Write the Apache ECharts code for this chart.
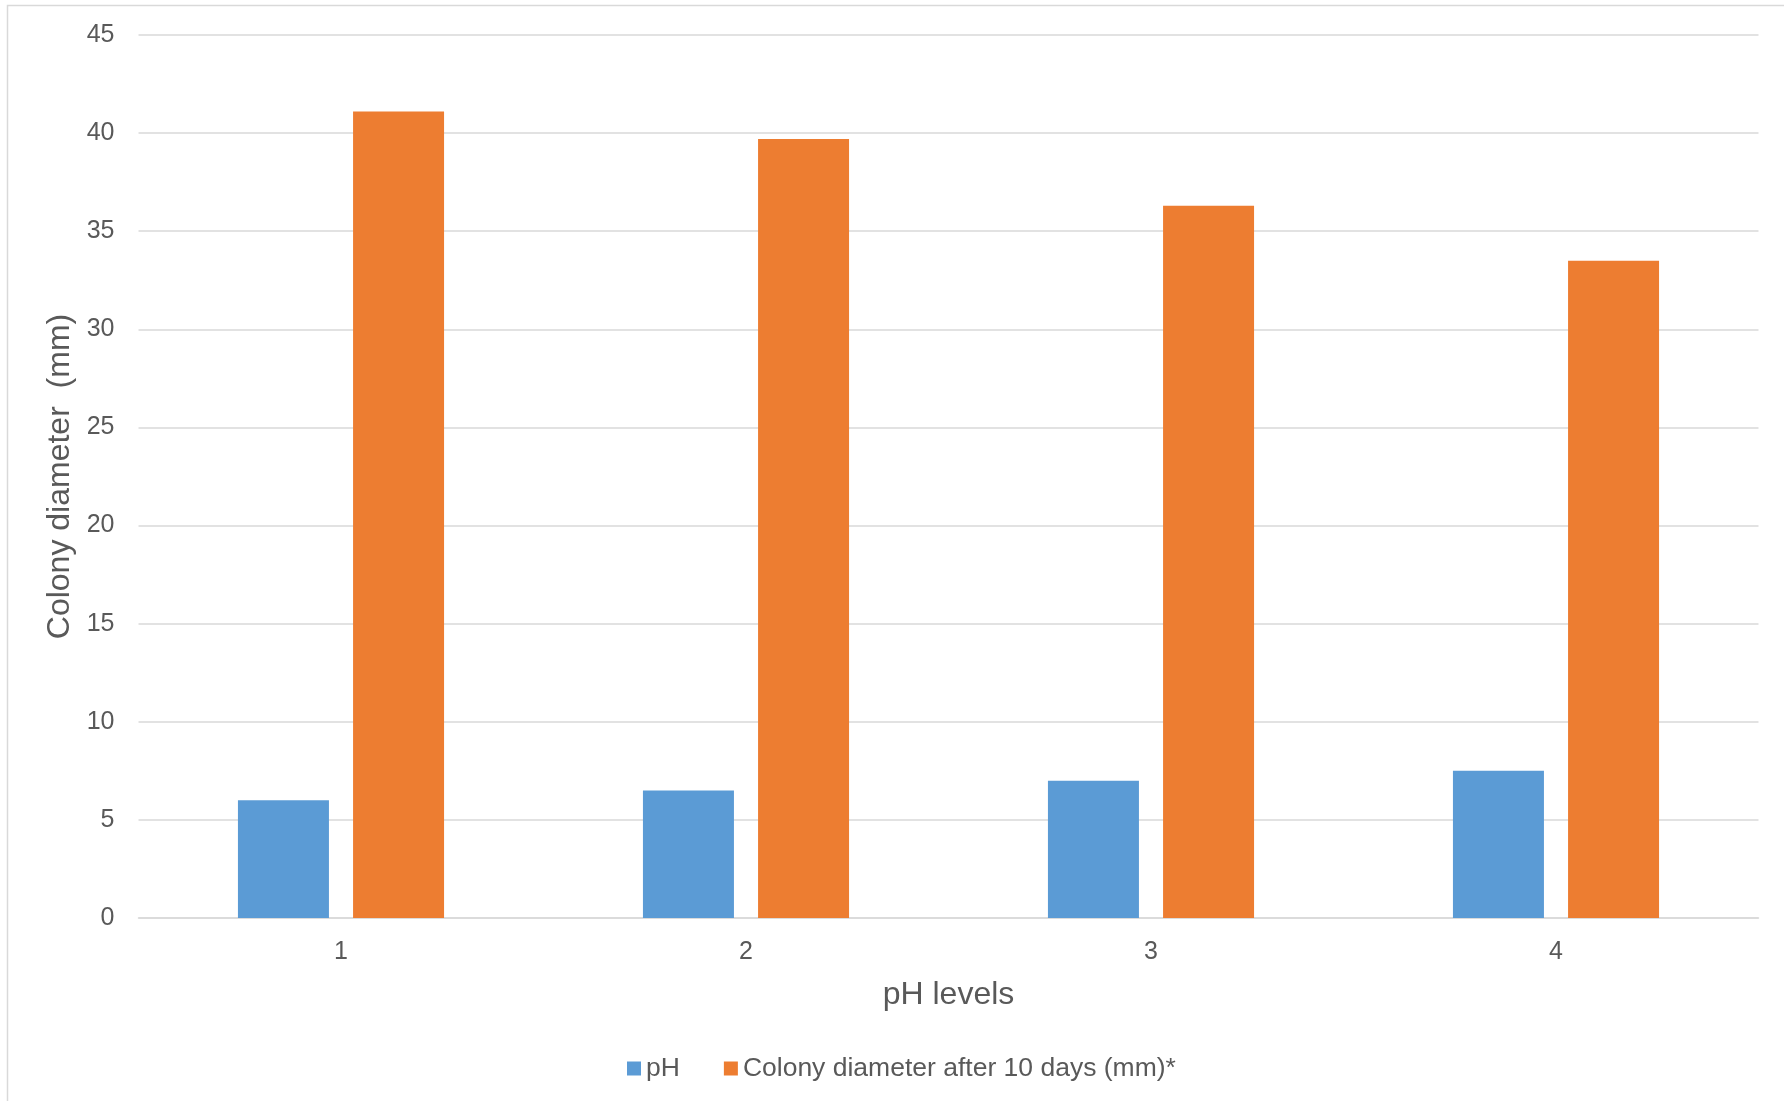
<!DOCTYPE html>
<html>
<head>
<meta charset="utf-8">
<script src="https://cdn.jsdelivr.net/npm/echarts@6/dist/echarts.min.js"></script>
<style>
html,body{margin:0;padding:0;background:#fff;}
#chart{width:1784px;height:1101px;}
</style>
</head>
<body>
<div id="chart"></div>
<script>
const categories = ['1', '2', '3', '4'];
const phValues = [6.0, 6.5, 7.0, 7.5];
const diameterValues = [41.1, 39.7, 36.3, 33.5];
const seriesNames = ['pH', 'Colony diameter after 10 days (mm)*'];
const xTitle = 'pH levels';
const yTitle = 'Colony diameter  (mm)';

const FONT = '"Liberation Sans", Arial, sans-serif';
const TXT = '#595959';
const chart = echarts.init(document.getElementById('chart'), null, {renderer: 'canvas'});
chart.setOption({
  animation: false,
  backgroundColor: '#fff',
  graphic: [{
    type: 'rect', silent: true, z: -1,
    shape: {x: 7.5, y: 5.5, width: 1900, height: 1300},
    style: {fill: 'none', stroke: '#d9d9d9', lineWidth: 1.5}
  }],
  grid: {left: 138.5, right: 25.5, top: 35, bottom: 183, containLabel: false},
  legend: {
    left: 622, top: 1050, padding: 5,
    icon: 'rect', itemWidth: 14, itemHeight: 14, itemGap: 44,
    textStyle: {fontFamily: FONT, fontSize: 26.5, color: TXT},
    data: seriesNames
  },
  xAxis: {
    type: 'category', data: categories,
    name: xTitle, nameLocation: 'middle', nameGap: 61,
    nameTextStyle: {fontFamily: FONT, fontSize: 32, color: TXT},
    axisLine: {lineStyle: {color: '#d9d9d9', width: 1.5}},
    axisTick: {show: false},
    axisLabel: {fontFamily: FONT, fontSize: 25, color: TXT, margin: 22}
  },
  yAxis: {
    type: 'value', min: 0, max: 45, interval: 5,
    name: yTitle, nameLocation: 'middle', nameGap: 61,
    nameTextStyle: {fontFamily: FONT, fontSize: 32, color: TXT},
    axisLine: {show: false}, axisTick: {show: false},
    axisLabel: {fontFamily: FONT, fontSize: 25, color: TXT, margin: 24},
    splitLine: {lineStyle: {color: '#d9d9d9', width: 1.5}}
  },
  series: [
    {name: seriesNames[0], type: 'bar', data: phValues, barWidth: 91, barGap: '26.5%',
     itemStyle: {color: '#5b9bd5'}},
    {name: seriesNames[1], type: 'bar', data: diameterValues, barWidth: 91,
     itemStyle: {color: '#ed7d31'}}
  ]
});
</script>
</body>
</html>
